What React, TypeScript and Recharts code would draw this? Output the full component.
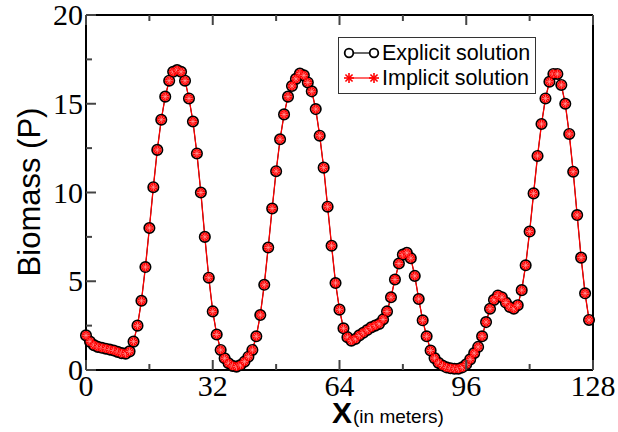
import React from 'react';
import { LineChart, Line, XAxis, YAxis, Legend } from 'recharts';

// grid points along the domain (in meters)
const xMeters = Array.from({ length: 128 }, (_, i) => i);

// biomass
const explicitSolution = [
  1.95, 1.6, 1.4, 1.3, 1.25, 1.2, 1.15, 1.1, 1.02, 0.95,
  0.92, 1.05, 1.6, 2.5, 3.9, 5.8, 8.0, 10.3, 12.4, 14.1,
  15.4, 16.3, 16.8, 16.9, 16.8, 16.3, 15.3, 14.0, 12.2, 10.0,
  7.5, 5.2, 3.3, 2.0, 1.13, 0.66, 0.38, 0.23, 0.19, 0.28,
  0.47, 0.75, 1.13, 1.9, 3.1, 4.8, 6.9, 9.1, 11.2, 13.0,
  14.4, 15.4, 16.0, 16.4, 16.7, 16.6, 16.2, 15.7, 14.7, 13.2,
  11.4, 9.2, 7.0, 4.9, 3.4, 2.35, 1.85, 1.65, 1.75, 1.95,
  2.1, 2.25, 2.4, 2.5, 2.6, 2.85, 3.3, 4.1, 5.1, 6.0,
  6.5, 6.6, 6.3, 5.3, 4.0, 2.8, 1.9, 1.1, 0.67, 0.4,
  0.25, 0.15, 0.1, 0.07, 0.07, 0.15, 0.32, 0.6, 0.95, 1.3,
  1.9, 2.7, 3.45, 3.95, 4.2, 4.1, 3.8, 3.55, 3.45, 3.65,
  4.5, 5.9, 7.8, 9.95, 12.06, 13.86, 15.3, 16.24, 16.68, 16.68,
  16.06, 15.0, 13.3, 11.17, 8.73, 6.33, 4.32, 2.82,
];

// the two schemes agree to plotting accuracy
const implicitSolution = [...explicitSolution];

const xTicks = [0, 16, 32, 48, 64, 80, 96, 112, 128];
const yTicks = [0, 2.5, 5, 7.5, 10, 12.5, 15, 17.5, 20];

const SERIF = '"Liberation Serif", "Times New Roman", serif';
const SANS = '"Liberation Sans", Arial, Helvetica, sans-serif';

const data = xMeters.map((x, i) => ({
  x,
  explicit: explicitSolution[i],
  implicit: implicitSolution[i],
}));

type Side = 'bottom' | 'top' | 'left' | 'right';

// ticks drawn inward, labels only on bottom / left
const makeTick = (side: Side, step: number, showLabel: boolean) => (props: any) => {
  const { x, y, payload } = props;
  const v = payload.value as number;
  const major = Math.abs(v / step - Math.round(v / step)) < 1e-6;
  const len = major ? 10 : 6;
  let x2 = x;
  let y2 = y;
  if (side === 'bottom') y2 = y - len;
  if (side === 'top') y2 = y + len;
  if (side === 'left') x2 = x + len;
  if (side === 'right') x2 = x - len;
  return (
    <g>
      <line x1={x} y1={y} x2={x2} y2={y2} stroke="#444" strokeWidth={2} />
      {showLabel && major && side === 'bottom' && (
        <text x={x} y={y + 26} textAnchor="middle" fontFamily={SERIF} fontSize={30} fill="#000">
          {v}
        </text>
      )}
      {showLabel && major && side === 'left' && (
        <text x={x - 3} y={y + 10} textAnchor="end" fontFamily={SERIF} fontSize={30} fill="#000">
          {v}
        </text>
      )}
    </g>
  );
};

const ringDot = (props: any) => {
  const { cx, cy, index } = props;
  return <circle key={`e-${index}`} cx={cx} cy={cy} r={5.2} fill="none" stroke="#000" strokeWidth={1.7} />;
};

const starDot = (props: any) => {
  const { cx, cy, index } = props;
  const s = 3.6;
  const d = s * 0.71;
  return (
    <g key={`i-${index}`}>
      <circle cx={cx} cy={cy} r={4.4} fill="#ff0000" />
      <g stroke="#ff9c9c" strokeWidth={0.7}>
        <line x1={cx - s} y1={cy} x2={cx + s} y2={cy} />
        <line x1={cx} y1={cy - s} x2={cx} y2={cy + s} />
        <line x1={cx - d} y1={cy - d} x2={cx + d} y2={cy + d} />
        <line x1={cx - d} y1={cy + d} x2={cx + d} y2={cy - d} />
      </g>
    </g>
  );
};

const Asterisk = ({ cx, cy }: { cx: number; cy: number }) => {
  const s = 5;
  const d = s * 0.71;
  return (
    <g stroke="#ff0000" strokeWidth={1.6}>
      <line x1={cx - s} y1={cy} x2={cx + s} y2={cy} />
      <line x1={cx} y1={cy - s} x2={cx} y2={cy + s} />
      <line x1={cx - d} y1={cy - d} x2={cx + d} y2={cy + d} />
      <line x1={cx - d} y1={cy + d} x2={cx + d} y2={cy - d} />
    </g>
  );
};

const LegendBox = () => (
  <div
    style={{
      width: 198,
      height: 57,
      boxSizing: 'border-box',
      border: '1.5px solid #333',
      background: '#fff',
      position: 'relative',
    }}
  >
    <svg width={196} height={54} style={{ position: 'absolute', left: 0, top: 0 }}>
      <line x1={10} y1={15} x2={35} y2={15} stroke="#000" strokeWidth={1.2} />
      <circle cx={10} cy={15} r={4.3} fill="#fff" stroke="#000" strokeWidth={1.8} />
      <circle cx={35} cy={15} r={4.3} fill="#fff" stroke="#000" strokeWidth={1.8} />
      <text x={43} y={22} fontFamily={SANS} fontSize={21.5} fill="#000">
        Explicit solution
      </text>
      <line x1={10} y1={40} x2={35} y2={40} stroke="#ff0000" strokeWidth={1.2} />
      <Asterisk cx={10} cy={40} />
      <Asterisk cx={35} cy={40} />
      <text x={43} y={47} fontFamily={SANS} fontSize={21.5} fill="#000">
        Implicit solution
      </text>
    </svg>
  </div>
);

const axisLine = { stroke: '#000', strokeWidth: 2 };

export default function App() {
  return (
    <div style={{ position: 'absolute', left: 0, top: 0, width: 618, height: 432, background: '#fff' }}>
      <LineChart
        width={618}
        height={432}
        data={data}
        margin={{ top: 14, right: 24, bottom: 61, left: 85 }}
      >
        <XAxis
          xAxisId="bottom"
          dataKey="x"
          type="number"
          domain={[0, 128]}
          ticks={xTicks}
          height={1}
          tickSize={0}
          tickMargin={0}
          tickLine={false}
          axisLine={axisLine}
          tick={makeTick('bottom', 32, true)}
          interval={0}
        />
        <XAxis
          xAxisId="top"
          orientation="top"
          dataKey="x"
          type="number"
          domain={[0, 128]}
          ticks={xTicks}
          height={1}
          tickSize={0}
          tickMargin={0}
          tickLine={false}
          axisLine={axisLine}
          tick={makeTick('top', 32, false)}
          interval={0}
        />
        <YAxis
          yAxisId="left"
          type="number"
          domain={[0, 20]}
          ticks={yTicks}
          width={1}
          tickSize={0}
          tickMargin={0}
          tickLine={false}
          axisLine={axisLine}
          tick={makeTick('left', 5, true)}
          interval={0}
        />
        <YAxis
          yAxisId="right"
          orientation="right"
          type="number"
          domain={[0, 20]}
          ticks={yTicks}
          width={1}
          tickSize={0}
          tickMargin={0}
          tickLine={false}
          axisLine={axisLine}
          tick={makeTick('right', 5, false)}
          interval={0}
        />
        <Legend
          layout="vertical"
          align="center"
          verticalAlign="middle"
          content={() => <LegendBox />}
          wrapperStyle={{ position: 'absolute', left: 338, top: 37, width: 198, height: 57 }}
        />
        <Line
          xAxisId="bottom"
          yAxisId="left"
          type="linear"
          dataKey="explicit"
          name="Explicit solution"
          stroke="#000"
          strokeWidth={1}
          dot={ringDot}
          isAnimationActive={false}
        />
        <Line
          xAxisId="bottom"
          yAxisId="left"
          type="linear"
          dataKey="implicit"
          name="Implicit solution"
          stroke="#ff0000"
          strokeWidth={1.3}
          dot={starDot}
          isAnimationActive={false}
        />
      </LineChart>
      <svg
        width={618}
        height={432}
        style={{ position: 'absolute', left: 0, top: 0, pointerEvents: 'none' }}
      >
        <text
          x={40}
          y={192}
          transform="rotate(-90 40 192)"
          textAnchor="middle"
          fontFamily={SANS}
          fontSize={31}
          fill="#000"
        >
          Biomass (P)
        </text>
        <text x={332} y={423} fontFamily={SANS} fontSize={30} fontWeight="bold" fill="#000">
          X
        </text>
        <text x={353} y={423} fontFamily={SANS} fontSize={19} fill="#000">
          (in meters)
        </text>
      </svg>
    </div>
  );
}
